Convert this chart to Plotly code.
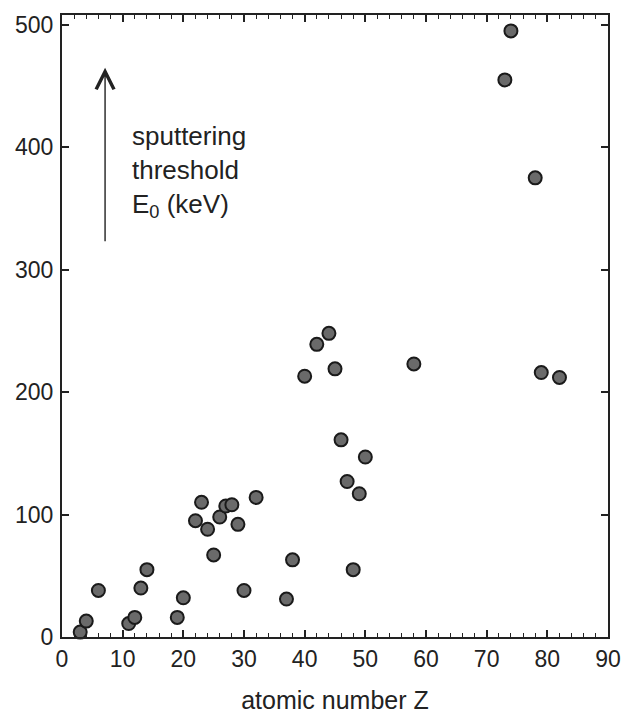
import plotly.graph_objects as go

Z = [3, 4, 6, 11, 12, 13, 14, 19, 20, 22, 23, 24, 25, 26, 27, 28, 29, 30, 32, 37, 38,
     40, 42, 44, 45, 46, 47, 48, 49, 50, 58, 73, 74, 78, 79, 82]
E0 = [4, 13, 38, 11, 16, 40, 55, 16, 32, 95, 110, 88, 67, 98, 107, 108, 92, 38, 114, 31, 63,
      213, 239, 248, 219, 161, 127, 55, 117, 147, 223, 455, 495, 375, 216, 212]

x_ticks = [0, 10, 20, 30, 40, 50, 60, 70, 80, 90]
y_ticks = [0, 100, 200, 300, 400, 500]

FONT = "Liberation Sans, Arial, sans-serif"

fig = go.Figure()
fig.add_trace(go.Scatter(
    x=Z, y=E0, mode="markers",
    marker=dict(size=13, color="#6a6a6a", line=dict(color="#1a1a1a", width=2)),
    showlegend=False, cliponaxis=False,
))

fig.add_annotation(
    x=7.1, y=465, ax=7.1, ay=322, xref="x", yref="y", axref="x", ayref="y",
    text="", showarrow=True, arrowhead=5, arrowsize=2.5, arrowwidth=1.4, arrowcolor="#222",
)
fig.add_annotation(
    x=11.2, y=423, xref="x", yref="y", xanchor="left", yanchor="top", align="left",
    text="sputtering<br>threshold<br>E<sub>0</sub> (keV)", showarrow=False,
    font=dict(size=26, color="#222", family=FONT),
)

axis_common = dict(
    showline=True, linecolor="#222", linewidth=2, mirror="ticks",
    ticks="inside", tickcolor="#222", tickwidth=1.5, ticklen=7,
    showgrid=False, zeroline=False,
    tickfont=dict(size=23, color="#222", family=FONT),
)

fig.update_xaxes(range=[0, 90], tickvals=x_ticks,
                 minor=dict(dtick=2, ticks="inside", ticklen=4, tickcolor="#222", tickwidth=1),
                 title=dict(text="atomic number Z", font=dict(size=25, color="#222", family=FONT), standoff=21),
                 **axis_common)
fig.update_yaxes(range=[0, 508], tickvals=y_ticks, ticklabelstandoff=2, **axis_common)

fig.update_layout(
    width=633, height=722,
    margin=dict(l=62, r=16, t=15, b=83),
    plot_bgcolor="white", paper_bgcolor="white",
    font=dict(family=FONT, color="#222"),
)

fig.write_html("out.html")
